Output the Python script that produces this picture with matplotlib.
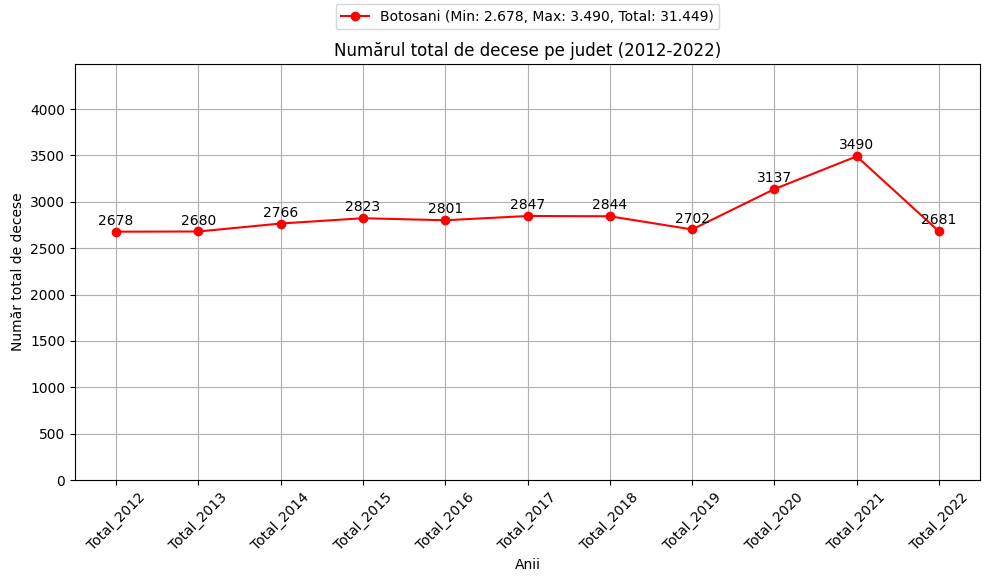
import matplotlib.pyplot as plt
from matplotlib.ticker import MultipleLocator

years = ["Total_2012", "Total_2013", "Total_2014", "Total_2015", "Total_2016", "Total_2017",
         "Total_2018", "Total_2019", "Total_2020", "Total_2021", "Total_2022"]
deaths = [2678, 2680, 2766, 2823, 2801, 2847, 2844, 2702, 3137, 3490, 2681]
county = "Botosani"


def fmt(v):
    return f"{v:,}".replace(",", ".")


fig, ax = plt.subplots(figsize=(9.89, 5.82), dpi=100)
fig.subplots_adjust(left=0.0758, right=0.991, top=0.890, bottom=0.175)

label = f"{county} (Min: {fmt(min(deaths))}, Max: {fmt(max(deaths))}, Total: {fmt(sum(deaths))})"
ax.plot(years, deaths, marker="o", color="red", label=label)

for x, y in zip(years, deaths):
    ax.annotate(str(y), (x, y), textcoords="offset points", xytext=(0, 5), ha="center")

ax.set_ylim(0, 4485)
ax.yaxis.set_major_locator(MultipleLocator(500))
ax.set_title("Numărul total de decese pe judet (2012-2022)")
ax.set_xlabel("Anii")
ax.set_ylabel("Număr total de decese")
ax.tick_params(axis="x", rotation=45)
ax.grid(True)
ax.legend(loc="upper center", bbox_to_anchor=(0.5, 1.16), ncol=1)

fig.savefig("out.png", dpi=100)
